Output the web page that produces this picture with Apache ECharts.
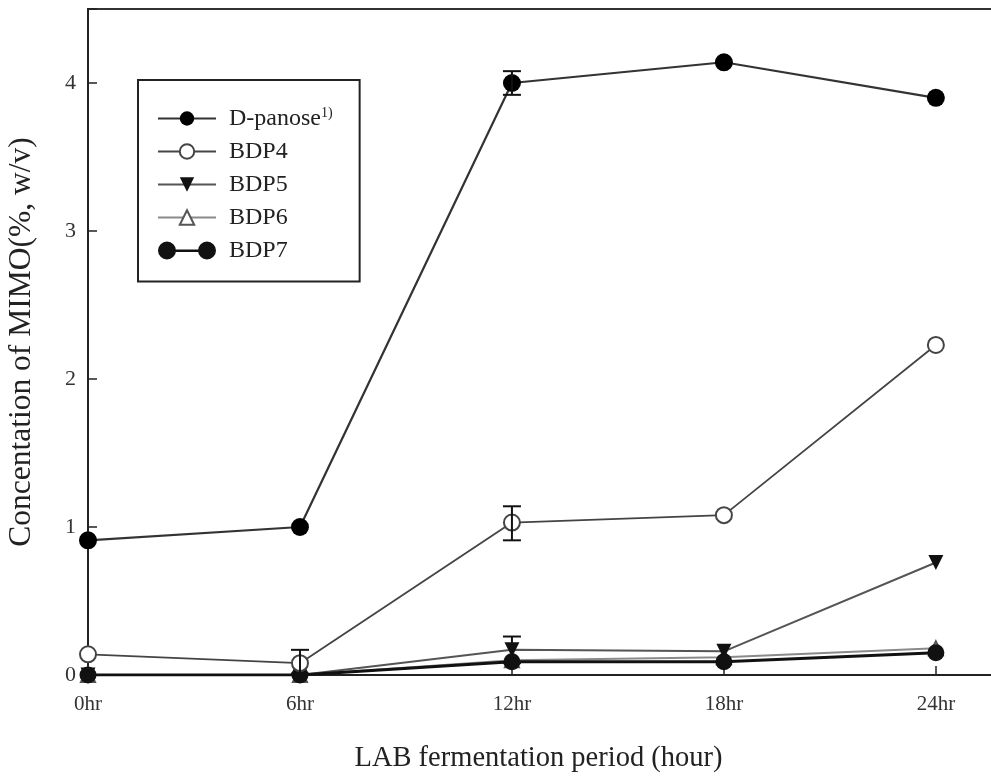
<!DOCTYPE html>
<html>
<head>
<meta charset="utf-8">
<script src="https://cdn.jsdelivr.net/npm/echarts@6/dist/echarts.min.js"></script>
<style>
  html, body { margin: 0; padding: 0; background: #fff; }
  #chart { width: 991px; height: 783px; }
</style>
</head>
<body>
<div id="chart"></div>
<script>
// Время ферментации (ч) и концентрации по сериям
const hours = [0, 6, 12, 18, 24];
const dPanose = [0.91, 1.0, 4.0, 4.14, 3.9];
const bdp4 = [0.14, 0.08, 1.03, 1.08, 2.23];
const bdp5 = [0, 0, 0.17, 0.16, 0.76];
const bdp6 = [0, 0, 0.1, 0.12, 0.18];
const bdp7 = [0, 0, 0.09, 0.09, 0.15];

// Планки погрешностей: [час, низ, верх]
const errorBars = [
  [12, 3.92, 4.08],
  [6, 0.01, 0.17],
  [12, 0.91, 1.14],
  [12, 0.08, 0.26],
];

const xTicks = ['0hr', '6hr', '12hr', '18hr', '24hr'];

const serif = '"Liberation Serif", "DejaVu Serif", serif';
const pairs = (ys) => hours.map((h, i) => [h, ys[i]]);

const chart = echarts.init(document.getElementById('chart'));

// значок легенды BDP7: два кружка на концах линии
const bdp7Icon = 'path://M0,9 A9,9 0 1,1 18,9 A9,9 0 1,1 0,9 Z M17,8 L41,8 L41,10.5 L17,10.5 Z M40,9 A9,9 0 1,1 58,9 A9,9 0 1,1 40,9 Z';

chart.setOption({
  animation: false,
  backgroundColor: '#fff',
  grid: {
    left: 88, right: -12, top: 9, bottom: 108,
    outerBoundsMode: 'none', containLabel: false,
    show: true, borderColor: '#333', borderWidth: 2, backgroundColor: 'transparent',
  },
  legend: {
    orient: 'vertical',
    left: 138, top: 80,
    padding: [26, 27, 19, 19],
    itemWidth: 58, itemHeight: 18, itemGap: 9,
    borderColor: '#222', borderWidth: 2,
    textStyle: {
      fontFamily: serif, fontSize: 24, lineHeight: 24, color: '#222', padding: [0, 0, 0, 8],
      rich: {
        n: { fontFamily: serif, fontSize: 24, color: '#222' },
        s: { fontFamily: serif, fontSize: 14, color: '#222', padding: [0, 0, 11, 0] },
      },
    },
    formatter: (name) => (name === 'D-panose' ? '{n|D-panose}{s|1)}' : name),
    data: [
      { name: 'D-panose' },
      { name: 'BDP4' },
      { name: 'BDP5' },
      { name: 'BDP6' },
      { name: 'BDP7', icon: bdp7Icon },
    ],
  },
  xAxis: {
    type: 'value',
    min: 0, max: 25.9, interval: 6,
    name: 'LAB fermentation period (hour)',
    nameLocation: 'middle', nameGap: 69,
    nameTextStyle: { fontFamily: serif, fontSize: 28.5, color: '#222', padding: [0, 14, 0, 0] },
    axisLine: { onZero: false, lineStyle: { color: '#222', width: 2 } },
    axisTick: { inside: true, length: 9, lineStyle: { color: '#222', width: 1.5 } },
    axisLabel: {
      margin: 19, fontFamily: serif, fontSize: 21, color: '#333',
      formatter: (v) => (hours.indexOf(v) >= 0 ? xTicks[hours.indexOf(v)] : ''),
    },
    splitLine: { show: false },
  },
  yAxis: {
    type: 'value',
    min: 0, max: 4.5, interval: 1,
    name: 'Concentation of MIMO(%, w/v)',
    nameLocation: 'middle', nameGap: 50,
    nameTextStyle: { fontFamily: serif, fontSize: 31.5, color: '#222' },
    axisLine: { lineStyle: { color: '#222', width: 2 } },
    axisTick: { inside: true, length: 9, lineStyle: { color: '#222', width: 1.5 } },
    axisLabel: {
      margin: 12, fontFamily: serif, fontSize: 22, color: '#333',
      formatter: (v) => (Number.isInteger(v) ? String(v) : ''),
    },
    splitLine: { show: false },
  },
  series: [
    {
      name: 'BDP6', type: 'line', data: pairs(bdp6), z: 2,
      symbol: 'emptyTriangle', symbolSize: 14,
      lineStyle: { color: '#8a8a8a', width: 2 },
      itemStyle: { color: '#555', borderWidth: 1.5 },
    },
    {
      name: 'BDP5', type: 'line', data: pairs(bdp5), z: 3,
      symbol: 'triangle', symbolRotate: 180, symbolSize: 15,
      lineStyle: { color: '#555', width: 2 },
      itemStyle: { color: '#111' },
    },
    {
      name: 'BDP7', type: 'line', data: pairs(bdp7), z: 4,
      symbol: 'circle', symbolSize: 17,
      lineStyle: { color: '#111', width: 3 },
      itemStyle: { color: '#111' },
    },
    {
      name: 'BDP4', type: 'line', data: pairs(bdp4), z: 5,
      symbol: 'emptyCircle', symbolSize: 16,
      lineStyle: { color: '#444', width: 1.8 },
      itemStyle: { color: '#444', borderWidth: 1.5 },
    },
    {
      name: 'D-panose', type: 'line', data: pairs(dPanose), z: 6,
      symbol: 'circle', symbolSize: 18,
      lineStyle: { color: '#333', width: 2.2 },
      itemStyle: { color: '#000' },
    },
    {
      name: 'err', type: 'custom', z: 7,
      data: errorBars,
      renderItem: (params, api) => {
        const x = api.value(0);
        const lo = api.coord([x, api.value(1)]);
        const hi = api.coord([x, api.value(2)]);
        const w = 9;
        const st = { stroke: '#111', lineWidth: 2 };
        return {
          type: 'group',
          children: [
            { type: 'line', shape: { x1: lo[0], y1: lo[1], x2: hi[0], y2: hi[1] }, style: st },
            { type: 'line', shape: { x1: hi[0] - w, y1: hi[1], x2: hi[0] + w, y2: hi[1] }, style: st },
            { type: 'line', shape: { x1: lo[0] - w, y1: lo[1], x2: lo[0] + w, y2: lo[1] }, style: st },
          ],
        };
      },
    },
  ],
});
</script>
</body>
</html>
